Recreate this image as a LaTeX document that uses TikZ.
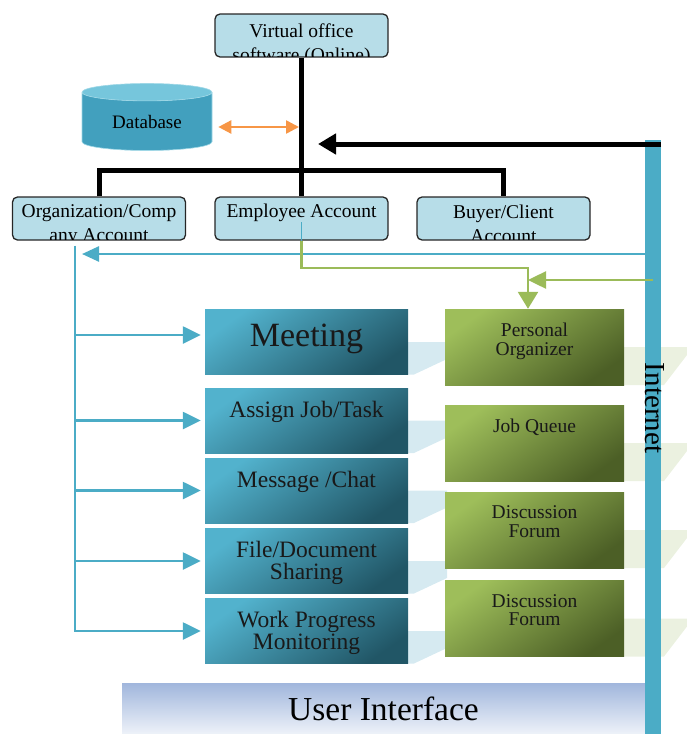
\documentclass[tikz,border=0pt]{standalone}
\usepackage{fontspec}
\setmainfont{Liberation Serif}
\usetikzlibrary{arrows.meta,shapes.geometric}

\definecolor{accountfill}{RGB}{183,221,232}
\definecolor{netblue}{RGB}{75,172,198}
\definecolor{tasktop}{RGB}{82,178,205}
\definecolor{taskbottom}{RGB}{33,86,102}
\definecolor{notetop}{RGB}{158,190,90}
\definecolor{notebottom}{RGB}{76,95,38}
\definecolor{linkgreen}{RGB}{155,187,89}
\definecolor{dborange}{RGB}{247,150,70}
\definecolor{dbbody}{RGB}{66,160,190}
\definecolor{dbtop}{RGB}{118,198,220}
\definecolor{paleblue}{RGB}{214,234,241}
\definecolor{palegreen}{RGB}{235,241,224}
\definecolor{uitop}{RGB}{160,182,220}
\definecolor{uibottom}{RGB}{238,242,249}

\begin{document}
\begin{tikzpicture}[
    x=1pt, y=-1pt,
    account box/.style={draw=black!85, line width=1.3pt, rounded corners=5pt, fill=accountfill, minimum width=173pt, minimum height=43pt, inner sep=0pt},
    account text/.style={font=\fontsize{19.5}{24.5}\selectfont, align=center, anchor=north, inner sep=0pt},
    task box/.style={top color=tasktop, bottom color=taskbottom, shading angle=35, minimum width=203pt, minimum height=65pt, inner sep=0pt},
    task text/.style={font=\fontsize{23.5}{22}\selectfont, align=center, anchor=north, inner sep=0pt, text=black!90},
    note box/.style={top color=notetop, bottom color=notebottom, shading angle=35, minimum width=179pt, minimum height=76pt, inner sep=0pt},
    note text/.style={font=\fontsize{19.5}{18.5}\selectfont, align=center, anchor=north, inner sep=0pt, text=black!90},
    tree line/.style={line width=5pt, black},
    feed line/.style={line width=2.5pt, netblue},
    green line/.style={line width=2.5pt, linkgreen}
]

\useasboundingbox (0,0) rectangle (687,734);

% Faint links between the columns
\foreach \yc in {342,420.5,490.5,561,631}
    \fill[paleblue] (408,\yc) -- (447,\yc) -- (447,\yc+17) -- (414,\yc+32.5) -- (408,\yc+32.5) -- cycle;
\foreach \yc in {347,443,530,618.5}
    \fill[palegreen] (624,\yc) -- (687,\yc) -- (687,\yc+8) -- (664,\yc+38) -- (624,\yc+38) -- cycle;

% Accounts
\node[account box] (vos) at (301.5,35.5) {};
\node[account box] (org) at (99,218.5) {};
\node[account box] (emp) at (301.5,218.5) {};
\node[account box] (buyer) at (503.5,218.5) {};

\begin{scope}
    \clip[rounded corners=5pt] ([shift={(0.7pt,0.7pt)}]vos.south west) rectangle ([shift={(-0.7pt,-0.7pt)}]vos.north east);
    \node[account text] (vostext) at ([yshift=-10pt]vos.north) {Virtual office\\software (Online)};
\end{scope}
\begin{scope}
    \clip[rounded corners=5pt] ([shift={(0.7pt,0.7pt)}]org.south west) rectangle ([shift={(-0.7pt,-0.7pt)}]org.north east);
    \node[account text] (orgtext) at ([yshift=-8pt]org.north) {Organization/Comp\\any Account};
\end{scope}
\begin{scope}
    \clip[rounded corners=5pt] ([shift={(0.7pt,0.7pt)}]emp.south west) rectangle ([shift={(-0.7pt,-0.7pt)}]emp.north east);
    \node[account text] (emptext) at ([yshift=-7pt]emp.north) {Employee Account};
\end{scope}
\begin{scope}
    \clip[rounded corners=5pt] ([shift={(0.7pt,0.7pt)}]buyer.south west) rectangle ([shift={(-0.7pt,-0.7pt)}]buyer.north east);
    \node[account text] (buyertext) at ([yshift=-8pt]buyer.north) {Buyer/Client\\Account};
\end{scope}

% Database
\node[cylinder, shape border rotate=90, aspect=0.25, minimum height=67pt, minimum width=130pt,
      cylinder uses custom fill, cylinder body fill=dbbody, cylinder end fill=dbtop,
      draw=dbtop!70!white, line width=0.6pt,
      inner sep=0pt, font=\fontsize{19}{19}\selectfont] (db) at (147,121.5) {Database};

% Tasks
\node[task box] (meeting) at (306.5,342) {};
\node[task box] (assign) at (306.5,420.5) {};
\node[task box] (message) at (306.5,490.5) {};
\node[task box] (file) at (306.5,561) {};
\node[task box] (work) at (306.5,631) {};

\node[task text, font=\fontsize{34}{34}\selectfont] (meetingtext) at ([yshift=-14pt]meeting.north) {Meeting};
\node[task text] (assigntext) at ([yshift=-13pt]assign.north) {Assign Job/Task};
\node[task text] (messagetext) at ([yshift=-13pt]message.north) {Message /Chat};
\node[task text] (filetext) at ([yshift=-13pt]file.north) {File/Document\\Sharing};
\node[task text] (worktext) at ([yshift=-13pt]work.north) {Work Progress\\Monitoring};

% Notes
\node[note box] (organizer) at (534.5,347) {};
\node[note box] (queue) at (534.5,443) {};
\node[note box] (forumA) at (534.5,530) {};
\node[note box] (forumB) at (534.5,618.5) {};

\node[note text] (organizertext) at ([yshift=-14pt]organizer.north) {Personal\\Organizer};
\node[note text] (queuetext) at ([yshift=-14pt]queue.north) {Job Queue};
\node[note text] (forumAtext) at ([yshift=-14pt]forumA.north) {Discussion\\Forum};
\node[note text] (forumBtext) at ([yshift=-14pt]forumB.north) {Discussion\\Forum};

% User interface and internet
\node[top color=uitop, bottom color=uibottom, minimum width=523pt, minimum height=51pt, inner sep=0pt,
      font=\fontsize{33.5}{33.5}\selectfont] (ui) at (383.5,708.5) {User Interface};
\node[fill=netblue, minimum width=16pt, minimum height=594pt, inner sep=0pt] (net) at (653,437) {};
\node[rotate=-90, inner sep=0pt, font=\fontsize{29}{29}\selectfont] (nettext) at (655,408) {Internet};

% Tree
\coordinate (hub) at (301.5,170);
\draw[tree line] (vos.south) -- (emp.north);
\draw[tree line, line join=miter] (org.north) |- (hub) -| (buyer.north);

\coordinate (netblack) at (661,144);
\coordinate (hubin) at (318,144);
\draw[tree line, -{Triangle[length=18pt,width=20pt]}] (netblack) -- (hubin);

\coordinate (hubdb) at (299,127);
\draw[line width=2.5pt, dborange, {Triangle[length=13pt,width=13pt]}-{Triangle[length=13pt,width=13pt]}, shorten <=6pt] (db.east |- hubdb) -- (hubdb);

% Feed from the internet to the tasks
\coordinate (leg) at (75,632);
\coordinate (cyanin) at (645,254);
\draw[feed line, -{Triangle[length=17pt,width=15pt]}, shorten >=7pt] (cyanin) -- (cyanin -| leg);
\draw[feed line, shorten <=5pt] (org.south -| leg) -- (leg);
\foreach \t/\dy in {meeting/7, assign/0, message/0, file/0, work/0}
    \draw[feed line, -{Triangle[length=18pt,width=17pt]}] ([yshift=\dy pt]\t.west -| leg) -- ([xshift=-4pt, yshift=\dy pt]\t.west);

% Employee to personal organizer
\draw[feed line, line width=1.5pt] (emp.south) -- ++(0,-19);
\coordinate (gturn) at (528,268);
\draw[green line, -{Triangle[length=17pt,width=20pt]}] (emp.south) |- (gturn) -- (organizer.north -| gturn);
\coordinate (gin) at (653,280);
\draw[green line, -{Triangle[length=18pt,width=17pt]}] (gin) -- (gin -| gturn);

\end{tikzpicture}
\end{document}
